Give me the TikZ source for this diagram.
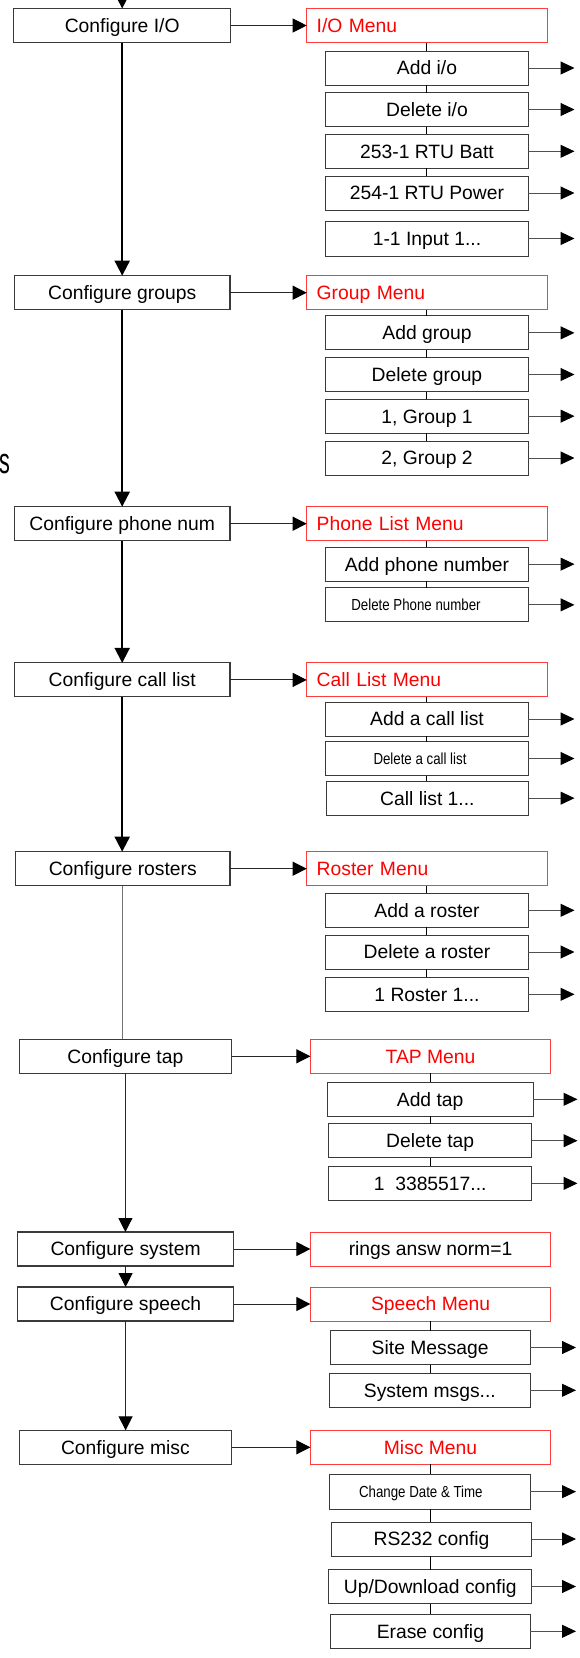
\documentclass[tikz,border=0pt]{standalone}
\usepackage{fontspec}
\setmainfont{Liberation Sans}
\newfontfamily\smallfont[FakeStretch=0.83]{Liberation Sans}
\newfontfamily\fragfont[FakeStretch=0.6]{Liberation Sans}
\usetikzlibrary{arrows.meta}
\definecolor{boxgray}{HTML}{3A3A3A}
\definecolor{menured}{HTML}{FF3B3B}
\definecolor{linegray}{HTML}{505050}
\begin{document}
\begin{tikzpicture}[x=1pt,y=-1pt,
  every node/.style={inner sep=0pt, outer sep=0pt},
  mainfont/.style={font=\fontsize{19.3}{22}\selectfont, text height=13.8pt, text depth=0pt},
  lbox/.style={mainfont, draw=boxgray, line width=1.1pt, fill=white, minimum height=34pt},
  lmenu/.style={mainfont, draw=menured, line width=1pt, fill=white, minimum height=34pt,
    text width=220.3pt, align=left, inner xsep=10pt, text=red},
  cmenu/.style={mainfont, draw=menured, line width=1pt, fill=white, minimum height=34pt,
    minimum width=240.3pt, text=red},
  item/.style={mainfont, draw=boxgray, line width=1pt, fill=white, minimum height=34pt},
  smallitem/.style={draw=boxgray, line width=1pt, fill=white, minimum height=34pt,
    font=\smallfont\fontsize{16}{18}\selectfont, text height=11.5pt, text depth=0pt},
  mainarrow/.style={line width=2pt, draw=black, -{Triangle[length=15pt,width=15pt]}},
  thinarrow/.style={line width=1pt, draw=black!85, -{Triangle[length=14pt,width=14pt,color=black]}},
  itemarrow/.style={line width=1pt, draw=linegray, -{Triangle[length=14pt,width=13pt,color=black]}},
  plainline/.style={line width=1pt, draw=black!55},
  menuline/.style={line width=1pt, draw=black}
]
\useasboundingbox (0,0) rectangle (579,1658);

% fragment of cut-off text
\node[font=\fragfont\fontsize{36}{36}\selectfont, anchor=base east] (frag) at (10,473) {s};

% left column
\node[lbox, minimum width=217pt] (cio) at (122.2,25.5) {Configure I/O};
\node[lbox, minimum width=215.6pt] (cgr) at (122.2,292.7) {Configure groups};
\node[lbox, minimum width=215.6pt] (cph) at (122.2,523.7) {Configure phone num};
\node[lbox, minimum width=215.6pt] (ccl) at (122.2,679.9) {Configure call list};
\node[lbox, minimum width=214.4pt] (cro) at (122.8,868.7) {Configure rosters};
\node[lbox, minimum width=212.2pt] (cta) at (125.4,1056.3) {Configure tap};
\node[lbox, minimum width=216.3pt] (csy) at (125.6,1249) {Configure system};
\node[lbox, minimum width=216.3pt] (csp) at (125.6,1304) {Configure speech};
\node[lbox, minimum width=212.2pt] (cmi) at (125.4,1447.3) {Configure misc};

% menus
\node[lmenu] (iom) at (426.85,25.5) {I/O Menu};
\node[lmenu] (grm) at (426.85,292.7) {Group Menu};
\node[lmenu] (phm) at (426.85,523.7) {Phone List Menu};
\node[lmenu] (clm) at (426.85,679.9) {Call List Menu};
\node[lmenu] (rom) at (426.85,868.7) {Roster Menu};
\node[cmenu] (tam) at (430.55,1056.3) {TAP Menu};
\node[cmenu, text=black] (rin) at (430.55,1249) {rings answ norm=1};
\node[cmenu] (spm) at (430.55,1304) {Speech Menu};
\node[cmenu] (mim) at (430.55,1447.3) {Misc Menu};

% I/O items
\node[item, minimum width=202.9pt] (io1) at (427,68) {Add i/o};
\node[item, minimum width=202.9pt] (io2) at (427,109.5) {Delete i/o};
\node[item, minimum width=202.9pt] (io3) at (427,151.3) {253-1 RTU Batt};
\node[item, minimum width=202.9pt] (io4) at (427,193) {254-1 RTU Power};
\node[item, minimum width=202.9pt, minimum height=35pt] (io5) at (427,238.5) {1-1 Input 1...};
% group items
\node[item, minimum width=202.9pt] (gr1) at (427,332.85) {Add group};
\node[item, minimum width=202.9pt] (gr2) at (427,374.5) {Delete group};
\node[item, minimum width=202.9pt] (gr3) at (427,416.15) {1, Group 1};
\node[item, minimum width=202.9pt] (gr4) at (427,458) {2, Group 2};
% phone items
\node[item, minimum width=202.9pt] (ph1) at (427,564.15) {Add phone number};
\node[smallitem, minimum width=202.9pt] (ph2) at (427,604.85) {\hspace*{-22pt}Delete Phone number};
% call list items
\node[item, minimum width=202.9pt] (cl1) at (427,719) {Add a call list};
\node[smallitem, minimum width=202.9pt] (cl2) at (427,758.5) {\hspace*{-14pt}Delete a call list};
\node[item, minimum width=202.2pt] (cl3) at (427.4,798.15) {Call list 1...};
% roster items
\node[item, minimum width=202.9pt] (ro1) at (427,910.3) {Add a roster};
\node[item, minimum width=202.9pt] (ro2) at (427,952) {Delete a roster};
\node[item, minimum width=202.9pt] (ro3) at (427,994.3) {1 Roster 1...};
% tap items
\node[item, minimum width=206.3pt] (ta1) at (430.15,1099.3) {Add tap};
\node[item, minimum width=202.6pt] (ta2) at (430.2,1140.7) {Delete tap};
\node[item, minimum width=202.6pt] (ta3) at (430.2,1183.35) {1\ \ 3385517...};
% speech items
\node[item, minimum width=200.4pt] (sp1) at (430.2,1347.5) {Site Message};
\node[item, minimum width=201.1pt] (sp2) at (429.85,1390.3) {System msgs...};
% misc items
\node[smallitem, minimum width=201.1pt, minimum height=34.7pt] (mi1) at (429.85,1491.65) {\hspace*{-18pt}Change Date \& Time};
\node[item, minimum width=200pt] (mi2) at (431.5,1539) {RS232 config};
\node[item, minimum width=202.6pt] (mi3) at (430.2,1586.5) {Up/Download config};
\node[item, minimum width=200pt] (mi4) at (430.4,1631.3) {Erase config};

% arrow end coordinates
\coordinate (topin) at (122.2,-20);
\coordinate (tipA) at (574.5,0);
\coordinate (tipB) at (577.5,0);
\coordinate (tipC) at (576,0);

% main vertical flow
\draw[mainarrow] (topin) -- (cio.north);
\draw[mainarrow] (cio.south) -- (cgr.north);
\draw[mainarrow] (cgr.south) -- (cph.north);
\draw[mainarrow] (cph.south) -- (ccl.north);
\draw[mainarrow] (ccl.south) -- (ccl.south |- cro.north);
\draw[plainline] (cro.south -| ccl.south) -- (ccl.south |- cta.north);
\draw[thinarrow] (cta.south) -- (cta.south |- csy.north);
\draw[thinarrow] (csy.south) -- (csp.north);
\draw[thinarrow] (csp.south) -- (csp.south |- cmi.north);

% left to menu arrows
\draw[thinarrow] (cio.east) -- (iom.west);
\draw[thinarrow] (cgr.east) -- (grm.west);
\draw[thinarrow] (cph.east) -- (phm.west);
\draw[thinarrow] (ccl.east) -- (clm.west);
\draw[thinarrow] (cro.east) -- (rom.west);
\draw[thinarrow] (cta.east) -- (tam.west);
\draw[thinarrow] (csy.east) -- (rin.west);
\draw[thinarrow] (csp.east) -- (spm.west);
\draw[thinarrow] (cmi.east) -- (mim.west);

% menu connecting lines (vertical, at the menu's centre)
\foreach \m/\a/\b in {iom/iom/io1, iom/io1/io2, iom/io2/io3, iom/io3/io4,
    grm/grm/gr1, grm/gr1/gr2, grm/gr2/gr3, grm/gr3/gr4,
    phm/phm/ph1, phm/ph1/ph2,
    clm/clm/cl1, clm/cl1/cl2, clm/cl2/cl3,
    rom/rom/ro1, rom/ro1/ro2, rom/ro2/ro3,
    tam/tam/ta1, tam/ta1/ta2, tam/ta2/ta3,
    spm/spm/sp1, spm/sp1/sp2,
    mim/mim/mi1, mim/mi1/mi2, mim/mi2/mi3, mim/mi3/mi4}
  \draw[menuline] (\a.south -| \m.south) -- (\b.north -| \m.south);

% item arrows
\foreach \n in {io1,io2,io3,io4,io5,gr1,gr2,gr3,gr4,ph1,ph2,cl1,cl2,cl3,ro1,ro2,ro3}
  \draw[itemarrow] (\n.east) -- (\n.east -| tipA);
\foreach \n in {ta1,ta2,ta3}
  \draw[itemarrow] (\n.east) -- (\n.east -| tipB);
\foreach \n in {sp1,sp2,mi1,mi2,mi3,mi4}
  \draw[itemarrow] (\n.east) -- (\n.east -| tipC);
\end{tikzpicture}
\end{document}
